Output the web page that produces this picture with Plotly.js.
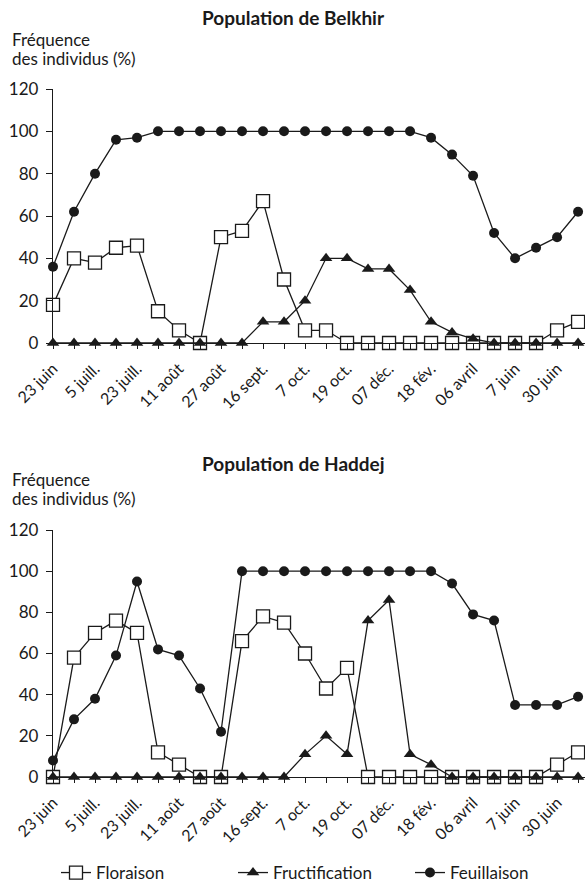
<!DOCTYPE html>
<html>
<head>
<meta charset="utf-8">
<script src="https://cdn.plot.ly/plotly-3.0.1.min.js"></script>
<style>
html,body{margin:0;padding:0;background:#fff;}
#chart{width:585px;height:887px;}
</style>
</head>
<body>
<div id="chart"></div>
<script>
// Tick labels (one per sampling date; unlabeled dates are '')
const dateLabels = ['23 juin','','5 juill.','','23 juill.','','11 août','','27 août','','16 sept.','','7 oct.','','19 oct.','','07 déc.','','18 fév.','','06 avril','','7 juin','','30 juin',''];
const seriesNames = ['Floraison','Fructification','Feuillaison'];
const yTicks = [0,20,40,60,80,100,120];

// Population de Belkhir
const belkhirFloraison      = [18,40,38,45,46,15,6,0,50,53,67,30,6,6,0,0,0,0,0,0,0,0,0,0,6,10];
const belkhirFructification = [0,0,0,0,0,0,0,0,0,0,10,10,20,40,40,35,35,25,10,5,2,0,0,0,0,0];
const belkhirFeuillaison    = [36,62,80,96,97,100,100,100,100,100,100,100,100,100,100,100,100,100,97,89,79,52,40,45,50,62];

// Population de Haddej
const haddejFloraison      = [0,58,70,76,70,12,6,0,0,66,78,75,60,43,53,0,0,0,0,0,0,0,0,0,6,12];
const haddejFructification = [0,0,0,0,0,0,0,0,0,0,0,0,11,20,11,76,86,11,6,0,0,0,0,0,0,0];
const haddejFeuillaison    = [8,28,38,59,95,62,59,43,22,100,100,100,100,100,100,100,100,100,100,94,79,76,35,35,35,39];

const xPos = dateLabels.map((_, i) => i);
const FONT = 'Lato, "Open Sans", sans-serif';
const INK = '#1a1a1a';

const styles = [
  {symbol:'square', size:13, color:'#ffffff', line:{color:INK, width:1.3}},
  {symbol:'triangle-up', size:11, color:INK, line:{color:INK, width:0}},
  {symbol:'circle', size:10, color:INK, line:{color:INK, width:0}}
];

function makeTraces(arrs, xa, ya, show) {
  return arrs.map((arr, k) => ({
    type:'scatter', mode:'lines+markers',
    x:xPos, y:arr, xaxis:xa, yaxis:ya,
    name:seriesNames[k], showlegend:show,
    line:{color:INK, width:1.3},
    marker:styles[k], cliponaxis:false, hoverinfo:'skip'
  }));
}

const data = [
  ...makeTraces([belkhirFloraison, belkhirFructification, belkhirFeuillaison], 'x', 'y', true),
  ...makeTraces([haddejFloraison, haddejFructification, haddejFeuillaison], 'x2', 'y2', false)
];

const H = 887, L = 53, W = 532;
const py = p => 1 - p / H;
const px = p => (p - L) / W;

const xRange = [0, 25.33];
function xAxis(anchor) {
  return {
    anchor:anchor, domain:[0,1], range:xRange, tickmode:'array',
    tickvals:xPos, ticktext:dateLabels, tickangle:-45,
    ticks:'outside', ticklen:5, tickwidth:1, tickcolor:INK,
    showline:true, linecolor:INK, linewidth:1.2, showgrid:false, zeroline:false,
    tickfont:{family:FONT, size:16, color:INK}, ticklabelstandoff:4, fixedrange:true,
    automargin:false
  };
}
function xOver(over, anchor) {
  return {
    overlaying:over, anchor:anchor, domain:[0,1], range:xRange, tickmode:'array',
    tickvals:xPos, ticks:'inside', ticklen:5, tickwidth:1, tickcolor:INK,
    showticklabels:false, showline:false, showgrid:false, zeroline:false
  };
}
function yAxis(anchor, dom) {
  return {
    anchor:anchor, domain:dom, range:[0,120], tickmode:'array', tickvals:yTicks,
    ticks:'outside', ticklen:6, tickwidth:1, tickcolor:INK,
    showline:true, linecolor:INK, linewidth:1.2, showgrid:false, zeroline:false,
    tickfont:{family:FONT, size:17, color:INK}, ticklabelstandoff:4, fixedrange:true,
    automargin:false
  };
}

const ann = (text, x, y, opts) => Object.assign({
  text:text, x:x, y:y, xref:'paper', yref:'paper', showarrow:false,
  font:{family:FONT, size:17, color:INK}
}, opts || {});

const layout = {
  width:585, height:887,
  margin:{l:L, r:0, t:0, b:0, pad:0, autoexpand:false},
  paper_bgcolor:'#fff', plot_bgcolor:'#fff',
  font:{family:FONT, color:INK},
  xaxis:xAxis('y'),
  yaxis:yAxis('x', [py(343), py(89)]),
  xaxis2:xAxis('y2'),
  yaxis2:yAxis('x2', [py(777), py(530)]),
  xaxis3:xOver('x', 'y'),
  xaxis4:xOver('x2', 'y2'),
  showlegend:true,
  legend:{
    orientation:'h', x:px(56), y:py(873), xanchor:'left', yanchor:'middle',
    entrywidth:132, entrywidthmode:'pixels', traceorder:'normal',
    font:{family:FONT, size:17, color:INK}, bgcolor:'rgba(0,0,0,0)', itemclick:false
  },
  annotations:[
    ann('<b>Population de Belkhir</b>', px(293), py(17), {xanchor:'center', yanchor:'middle', font:{family:FONT, size:19, color:INK}}),
    ann('Fréquence', px(10), py(40), {xanchor:'left', yanchor:'middle'}),
    ann('des individus (%)', px(10), py(59), {xanchor:'left', yanchor:'middle'}),
    ann('<b>Population de Haddej</b>', px(293), py(463), {xanchor:'center', yanchor:'middle', font:{family:FONT, size:19, color:INK}}),
    ann('Fréquence', px(10), py(479), {xanchor:'left', yanchor:'middle'}),
    ann('des individus (%)', px(10), py(498.5), {xanchor:'left', yanchor:'middle'})
  ]
};

Plotly.newPlot('chart', data, layout, {displayModeBar:false, staticPlot:true});
</script>
</body>
</html>
